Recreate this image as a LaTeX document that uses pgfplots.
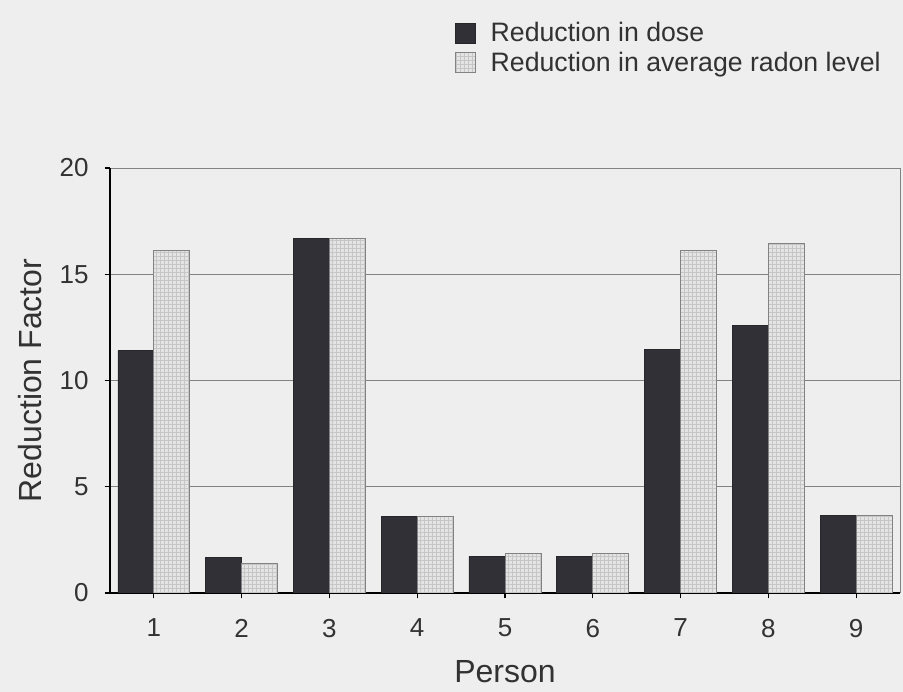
\documentclass[border=0pt]{standalone}
\usepackage{pgfplots}
\pgfplotsset{compat=1.18}
\usepackage{fontspec}
\setmainfont{Liberation Sans}
\usetikzlibrary{patterns}
\definecolor{bg}{RGB}{238,238,238}
\definecolor{darkbar}{RGB}{48,48,54}
\definecolor{lightbar}{RGB}{228,228,228}
\definecolor{gridc}{RGB}{130,130,130}
\definecolor{textc}{RGB}{50,50,50}
\begin{document}
\begin{tikzpicture}
\fill[bg] (0,0) rectangle (677.25pt,519pt);
\useasboundingbox (0,0) rectangle (677.25pt,519pt);
\begin{axis}[
  at={(82.5pt,74.25pt)}, anchor=south west,
  scale only axis, width=592.5pt, height=318.75pt,
  ybar=0pt, bar width=27pt,
  xmin=0.5, xmax=9.5, ymin=0, ymax=20,
  xtick={1,...,9}, ytick={0,5,10,15,20},
  axis lines*=left,
  axis line style={black, line width=1.4pt},
  tick align=outside, major tick length=4pt,
  tick style={black, line width=0.8pt},
  ymajorgrids, grid style={gridc, line width=0.6pt},
  extra x ticks={9.5}, extra x tick labels={},
  extra x tick style={grid=major, major tick length=0pt},
  font=\fontsize{19.5}{22}\selectfont,
  /pgf/number format/assume math mode=true,
  ticklabel style={font=\fontsize{19.5}{22}\selectfont, text=textc},
  xticklabel style={yshift=-12pt},
  yticklabel style={xshift=-8.5pt},
  xlabel={Person}, ylabel={Reduction Factor},
  label style={font=\fontsize{24}{28}\selectfont, text=textc},
  xlabel style={at={(axis description cs:0.5,-0.186)}, anchor=center},
  ylabel style={at={(axis description cs:-0.101,0.5)}, anchor=center},
  legend style={draw=none, fill=none, inner sep=0pt,
    at={(axis description cs:0.4367,1.346)}, anchor=north west,
    font=\fontsize{20}{22}\selectfont, text=textc, row sep=4pt, column sep=10pt,
    nodes={inner sep=1pt}},
  legend cell align=left,
  legend image code/.code={\draw[#1] (0pt,-7.5pt) rectangle (15pt,7.5pt);},
]
\addplot[fill=darkbar, draw=darkbar!80!black, line width=0.5pt] coordinates {
 (1,11.4) (2,1.68) (3,16.7) (4,3.6) (5,1.72) (6,1.72) (7,11.45) (8,12.6) (9,3.65)};
\addplot[fill=lightbar, draw=gridc, line width=0.6pt,
  postaction={pattern=grid, pattern color=gray!45}] coordinates {
 (1,16.1) (2,1.4) (3,16.7) (4,3.6) (5,1.85) (6,1.85) (7,16.1) (8,16.45) (9,3.65)};
\legend{Reduction in dose, Reduction in average radon level}
\end{axis}
\end{tikzpicture}
\end{document}
